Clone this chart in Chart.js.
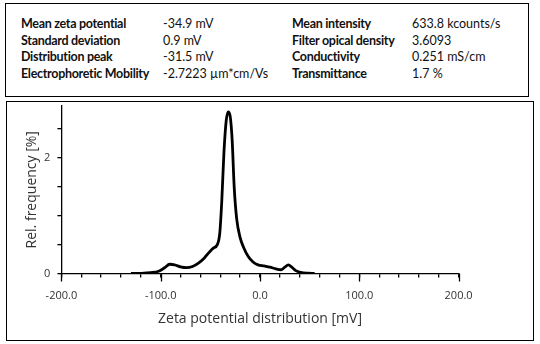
<!DOCTYPE html>
<html>
<head>
<meta charset="utf-8">
<script src="https://cdn.jsdelivr.net/npm/chart.js@4.4.1/dist/chart.umd.min.js"></script>
<style>
  html, body { margin: 0; padding: 0; background: #fff; }
  body { width: 540px; height: 344px; position: relative; overflow: hidden; }
  .box { position: absolute; border: 1.5px solid #000; box-sizing: border-box; }
  #top { left: 5px; top: 3px; width: 524px; height: 94px; }
  #bottom { left: 6px; top: 101px; width: 528px; height: 240px; }
  .cell { position: absolute; font-family: Lato, "Open Sans", sans-serif; font-size: 12.5px; color: #111; white-space: nowrap; line-height: 14px; }
  .b { font-weight: bold; letter-spacing: -0.3px; }
  canvas#c { position: absolute; left: 0; top: 0; }
</style>
</head>
<body>
<div class="box" id="top"></div>
<div class="box" id="bottom"></div>
<div id="info"></div>
<canvas id="c" width="540" height="344"></canvas>
<script>
// ----- data -----
const infoLeftLabels  = ["Mean zeta potential", "Standard deviation", "Distribution peak", "Electrophoretic Mobility"];
const infoLeftValues  = ["-34.9 mV", "0.9 mV", "-31.5 mV", "-2.7223 µm*cm/Vs"];
const infoRightLabels = ["Mean intensity", "Filter opical density", "Conductivity", "Transmittance"];
const infoRightValues = ["633.8 kcounts/s", "3.6093", "0.251 mS/cm", "1.7 %"];

const zeta = [-130, -120, -110, -102, -96, -91, -86, -80, -74, -68, -62, -56, -51, -47, -43, -40.5, -38.5, -36.3, -34, -32, -30, -28, -26, -23.5, -20, -16.5, -12, -7, -2, 4, 10, 16, 21, 25, 28.5, 32, 36, 41, 48, 55];
const freq = [0, 0.003, 0.015, 0.04, 0.1, 0.16, 0.15, 0.115, 0.1, 0.12, 0.18, 0.27, 0.37, 0.44, 0.5, 0.7, 1.25, 2.1, 2.65, 2.8, 2.72, 2.3, 1.5, 0.95, 0.62, 0.45, 0.3, 0.2, 0.15, 0.13, 0.11, 0.08, 0.065, 0.11, 0.15, 0.11, 0.05, 0.02, 0.005, 0];

const xMajorTicks = [-200, -100, 0, 100, 200];
const yTicks = [0, 0.5, 1, 1.5, 2, 2.5];
const yLabelled = [0, 2];

// ----- info block -----
const info = document.getElementById('info');
function addCell(text, x, y, bold) {
  const d = document.createElement('div');
  d.className = 'cell' + (bold ? ' b' : '');
  d.textContent = text;
  d.style.left = x + 'px';
  d.style.top = y + 'px';
  info.appendChild(d);
}
const rowTops = [17, 34, 50, 67];
infoLeftLabels.forEach((t, i) => addCell(t, 21, rowTops[i], true));
infoLeftValues.forEach((t, i) => addCell(t, 163, rowTops[i], false));
infoRightLabels.forEach((t, i) => addCell(t, 292, rowTops[i], true));
infoRightValues.forEach((t, i) => addCell(t, 412, rowTops[i], false));

// ----- chart -----
const points = zeta.map((x, i) => ({ x: x, y: freq[i] }));
const tickFont = { family: "'Open Sans', 'Noto Sans', sans-serif", size: 11 };
const titleFont = { family: "'Open Sans', 'Noto Sans', sans-serif", size: 14 };

const majorTickPlugin = {
  id: 'majorTicks',
  afterDraw(chart) {
    const xs = chart.scales.x;
    const ctx = chart.ctx;
    const y0 = chart.chartArea.bottom;
    ctx.save();
    ctx.strokeStyle = '#000';
    ctx.lineWidth = 1.3;
    xMajorTicks.forEach(v => {
      const px = Math.round(xs.getPixelForValue(v)) + 0.5;
      ctx.beginPath();
      ctx.moveTo(px, y0);
      ctx.lineTo(px, y0 + 8);
      ctx.stroke();
    });
    ctx.restore();
  }
};

new Chart(document.getElementById('c'), {
  type: 'line',
  data: {
    datasets: [{
      data: points,
      borderColor: '#000',
      borderWidth: 2.8,
      pointRadius: 0,
      fill: false,
      cubicInterpolationMode: 'monotone'
    }]
  },
  options: {
    responsive: false,
    animation: false,
    events: [],
    layout: { padding: { left: 0, right: 81.4, top: 106, bottom: 0 } },
    plugins: { legend: { display: false }, tooltip: { enabled: false } },
    scales: {
      x: {
        type: 'linear',
        min: -200, max: 200,
        afterFit(s) { s.height = 70.5; },
        border: { color: '#000', width: 1.3 },
        grid: { drawOnChartArea: false, drawTicks: true, tickLength: 4, color: '#000', lineWidth: 1.3 },
        ticks: {
          stepSize: 20, autoSkip: false, maxRotation: 0, color: '#333', font: tickFont, padding: 12,
          callback: v => (v % 100 === 0 ? v.toFixed(1) : '')
        },
        title: { display: true, text: 'Zeta potential distribution [mV]', color: '#333', font: titleFont, padding: { top: 4, bottom: 17 } }
      },
      y: {
        type: 'linear',
        min: 0, max: 2.9,
        afterFit(s) { s.width = 61.4; },
        afterBuildTicks(s) { s.ticks = yTicks.map(v => ({ value: v })); },
        border: { color: '#000', width: 1.3 },
        grid: { drawOnChartArea: false, drawTicks: true, tickLength: 4, color: '#000', lineWidth: 1.3 },
        ticks: {
          color: '#333', font: tickFont, padding: 7,
          callback: v => (yLabelled.includes(v) ? String(v) : '')
        },
        title: { display: true, text: 'Rel. frequency [%]', color: '#333', font: titleFont, padding: { top: 24, bottom: 0 } }
      }
    }
  },
  plugins: [majorTickPlugin]
});
</script>
</body>
</html>
